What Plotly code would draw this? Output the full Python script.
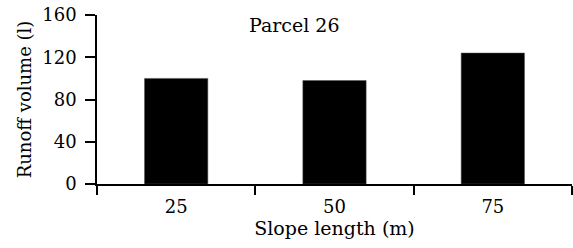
import plotly.graph_objects as go

categories = ["25", "50", "75"]
runoff = [100, 98, 124]
y_ticks = [0, 40, 80, 120, 160]
title_text = "Parcel 26"

FONT = "DejaVu Serif"

fig = go.Figure()
fig.add_trace(go.Bar(
    x=categories, y=runoff, width=0.4,
    marker=dict(color="black", line=dict(width=0.5, color="#555")),
))

fig.update_layout(
    width=573, height=248,
    margin=dict(l=97, r=1, t=15, b=64),
    paper_bgcolor="white", plot_bgcolor="white",
    showlegend=False,
    font=dict(family=FONT, size=18, color="black"),
    annotations=[dict(text=title_text, x=0.415, y=0.94, xref="paper", yref="paper",
                      xanchor="center", yanchor="middle", showarrow=False,
                      font=dict(family=FONT, size=19, color="black"))],
)
fig.update_xaxes(
    type="category", range=[-0.5, 2.5], automargin=False,
    showline=True, linecolor="black", linewidth=1.5,
    ticks="outside", tickson="boundaries", ticklen=9, tickwidth=1.5, tickcolor="black",
    showgrid=False, zeroline=False, ticklabelstandoff=6,
    title=dict(text="Slope length (m)", standoff=5, font=dict(size=19)),
    tickfont=dict(size=18),
)
fig.update_yaxes(
    range=[0, 160], tickvals=y_ticks, automargin=False,
    showline=True, linecolor="black", linewidth=1.5,
    ticks="outside", ticklen=10, tickwidth=1.5, tickcolor="black",
    showgrid=False, zeroline=False, ticklabelstandoff=5, ticklabeloverflow="allow",
    title=dict(text="Runoff volume (l)", standoff=6, font=dict(size=18)),
    tickfont=dict(size=18),
)

fig.write_html("out.html", config={"displayModeBar": False},
               post_script="document.body.style.margin='0';")
